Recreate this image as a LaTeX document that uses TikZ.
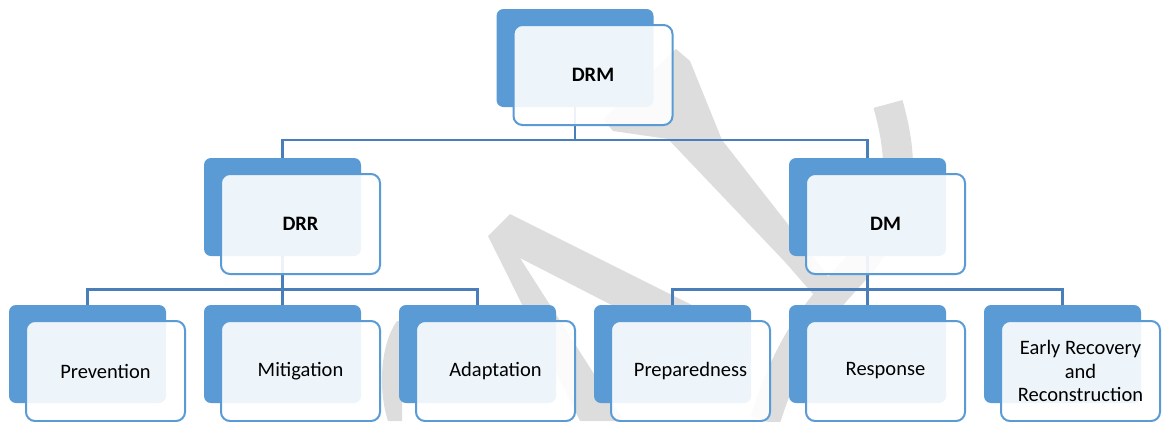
\documentclass[tikz,border=0pt]{standalone}
\usepackage{fontspec}
\setmainfont{Carlito}
\definecolor{cardblue}{HTML}{5B9BD5}
\definecolor{linkblue}{HTML}{4A7EBB}
\definecolor{wmgray}{HTML}{DDDDDD}
\tikzset{
  backcard/.style={fill=cardblue, rounded corners=7pt, minimum width=157pt,
    minimum height=98pt, anchor=north west, inner sep=0pt, outer sep=0pt},
  frontcard/.style={draw=cardblue, line width=2pt, fill=white, fill opacity=0.9,
    text opacity=1, rounded corners=9pt, minimum width=159pt, minimum height=100pt,
    anchor=north west, inner sep=0pt, outer sep=0pt, align=center,
    font=\fontsize{20.5}{23.5}\selectfont},
  link/.style={draw=linkblue, line width=2.2pt},
  wm/.style={fill=wmgray, draw=none},
  wmstroke/.style={draw=wmgray, line width=30pt}
}
% back card: name, left x, top y
\newcommand\backc[3]{\node[backcard] (#1b) at (#2,#3) {};}
% front card: name, left x, top y (of the back card), label
\newcommand\frontc[4]{\node[frontcard] (#1) at (#2+17,#3+16) {#4};}
\begin{document}
\begin{tikzpicture}[x=1pt,y=-1pt]
\useasboundingbox (0,0) rectangle (1163,421);
\clip (0,0) rectangle (1163,421);
\fill[white] (0,0) rectangle (1163,421);

% light grey lettering in the background
\fill[wm] (488,236) -- (510,214) -- (700,309) -- (672,336) -- (520,258)
  -- (624,421) -- (580,421) -- cycle;
\fill[wm] (603,119) -- (676,49) -- (690,61) -- (722,140) -- (812,255)
  -- (838,290) -- (820,302) -- (785,262) -- (668,139) -- (613,131) -- cycle;
\draw[wmstroke] (888,104) .. controls (905,165) and (905,215) .. (850,275)
  .. controls (820,308) and (790,340) .. (765,421);
\fill[wm] (397,321) -- (402,321) -- (402,421) -- (388,421)
  .. controls (378,390) and (380,345) .. (397,321) -- cycle;

% back cards
\backc{drm}{496.5}{9}
\backc{drr}{204}{158}
\backc{dm}{789}{158}
\backc{prev}{9}{305}
\backc{miti}{204}{305}
\backc{adap}{399}{305}
\backc{prep}{594}{305}
\backc{resp}{789}{305}
\backc{reco}{984}{305}

% connectors
\draw[link] (drmb.south) -- ++(0,33) -| (drrb.north);
\draw[link] (drmb.south) ++(0,33) -| (dmb.north);
\draw[link] (drrb.south) -- ++(0,33.5) -| (prevb.north);
\draw[link] (drrb.south) ++(0,33.5) -| (mitib.north);
\draw[link] (drrb.south) ++(0,33.5) -| (adapb.north);
\draw[link] (dmb.south) -- ++(0,33.5) -| (prepb.north);
\draw[link] (dmb.south) ++(0,33.5) -| (respb.north);
\draw[link] (dmb.south) ++(0,33.5) -| (recob.north);

% front cards with labels
\frontc{drm}{496.5}{9}{\bfseries DRM}
\frontc{drr}{204}{158}{\bfseries DRR}
\frontc{dm}{789}{158}{\bfseries DM}
\frontc{prev}{9}{305}{Prevention}
\frontc{miti}{204}{305}{Mitigation}
\frontc{adap}{399}{305}{Adaptation}
\frontc{prep}{594}{305}{Preparedness}
\frontc{resp}{789}{305}{Response}
\frontc{reco}{984}{305}{Early Recovery\\and\\Reconstruction}
\end{tikzpicture}
\end{document}
